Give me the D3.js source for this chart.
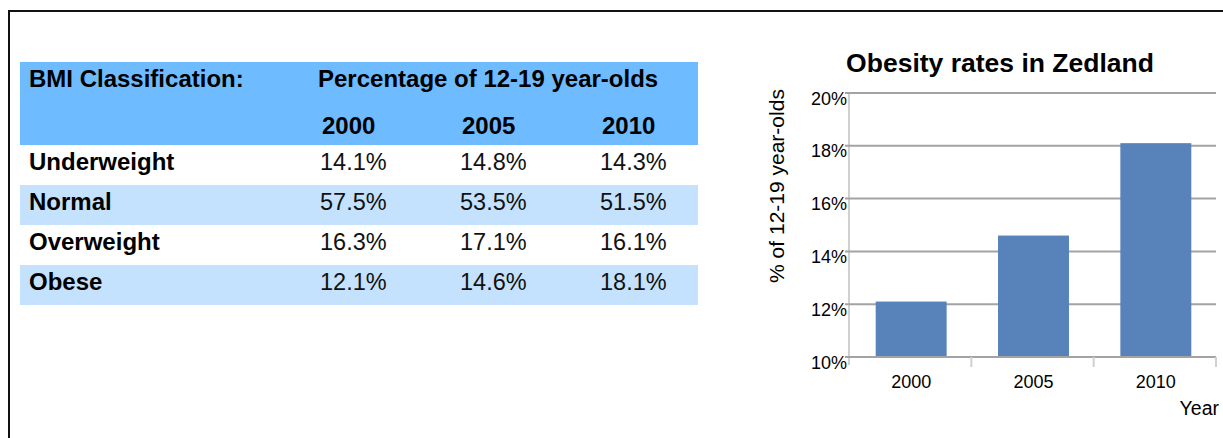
<!DOCTYPE html>
<html>
<head>
<meta charset="utf-8">
<script src="https://cdn.jsdelivr.net/npm/d3@7"></script>
<style>
  html, body { margin: 0; padding: 0; background: #fff; }
  svg { display: block; font-family: "Liberation Sans", Arial, sans-serif; }
</style>
</head>
<body>
<div id="chart_container"></div>
<script>
/// DATA
var classes = ["Underweight", "Normal", "Overweight", "Obese"];
var years = ["2000", "2005", "2010"];
var pct2000 = [14.1, 57.5, 16.3, 12.1];
var pct2005 = [14.8, 53.5, 17.1, 14.6];
var pct2010 = [14.3, 51.5, 16.1, 18.1];
var obese = [12.1, 14.6, 18.1]; // same as the "Obese" row, what the bars show
var yTicks = [10, 12, 14, 16, 18, 20];

/// SIZES
var W = 1223, H = 438;
var svg = d3.select("#chart_container").append("svg")
    .attr("width", W).attr("height", H);

// outer frame (only top + left edges are visible in the shot)
svg.append("path")
    .attr("d", "M9,438 V11 H1223")
    .attr("fill", "none").attr("stroke", "#111").attr("stroke-width", 2);

// ----------------- //
// TABLE             //
// ----------------- //
var tbl = {left: 20, right: 698, headTop: 62, headBottom: 145, rowH: 40};
var colX = d3.scalePoint().domain(years).range([320, 600]);
var rowY = d3.scaleBand().domain(classes)
    .range([tbl.headBottom, tbl.headBottom + classes.length * tbl.rowH]);
var cols = [pct2000, pct2005, pct2010];

var t = svg.append("g").attr("class", "table");

t.append("rect")
    .attr("x", tbl.left).attr("y", tbl.headTop)
    .attr("width", tbl.right - tbl.left).attr("height", tbl.headBottom - tbl.headTop)
    .attr("fill", "#6ebbff");

t.selectAll("rect.band").data(classes).enter().append("rect")
    .attr("class", "band")
    .attr("x", tbl.left).attr("y", function(d) { return rowY(d); })
    .attr("width", tbl.right - tbl.left).attr("height", rowY.bandwidth())
    .attr("fill", function(d, i) { return i % 2 ? "#c4e2fd" : "#fff"; });

var fsB = 24, fsR = 23.5;
t.append("text").attr("x", 29).attr("y", 87)
    .attr("font-size", fsB).attr("font-weight", "bold").text("BMI Classification:");
t.append("text").attr("x", 318).attr("y", 87)
    .attr("font-size", fsB).attr("font-weight", "bold").text("Percentage of 12-19 year-olds");
t.selectAll("text.yr").data(years).enter().append("text")
    .attr("class", "yr")
    .attr("x", function(d) { return colX(d) + 2; }).attr("y", 134)
    .attr("font-size", fsB).attr("font-weight", "bold")
    .text(function(d) { return d; });

t.selectAll("text.cls").data(classes).enter().append("text")
    .attr("class", "cls")
    .attr("x", 29).attr("y", function(d) { return rowY(d) + 25; })
    .attr("font-size", fsB).attr("font-weight", "bold")
    .text(function(d) { return d; });

years.forEach(function(yr, j) {
  t.selectAll("text.v" + yr).data(cols[j]).enter().append("text")
      .attr("class", "v" + yr)
      .attr("x", colX(yr)).attr("y", function(d, i) { return rowY(classes[i]) + 25; })
      .attr("font-size", fsR).attr("fill", "#111")
      .text(function(d) { return d.toFixed(1) + "%"; });
});

// ----------------- //
// BAR CHART         //
// ----------------- //
var plot = {left: 849, right: 1216, top: 93, bottom: 357};
var x = d3.scaleBand().domain(years).range([plot.left, plot.right]).padding(0);
var y = d3.scaleLinear().domain([10, 20]).range([plot.bottom, plot.top]);
var barFrac = 0.58;

var c = svg.append("g").attr("class", "chart");

c.append("text")
    .attr("x", 1000).attr("y", 72)
    .attr("text-anchor", "middle")
    .attr("font-size", 26.5).attr("font-weight", "bold")
    .text("Obesity rates in Zedland");

// y axis line
c.append("line")
    .attr("x1", plot.left).attr("x2", plot.left)
    .attr("y1", plot.top).attr("y2", plot.bottom + 8)
    .attr("stroke", "#d0d0d0").attr("stroke-width", 2);

// gridlines
c.selectAll("line.grid").data(yTicks.slice(1)).enter().append("line")
    .attr("class", "grid")
    .attr("x1", plot.left - 4).attr("x2", plot.right)
    .attr("y1", function(d) { return y(d); }).attr("y2", function(d) { return y(d); })
    .attr("stroke", "#a3a3a3").attr("stroke-width", 2);

// bars
c.selectAll("rect.bar").data(obese).enter().append("rect")
    .attr("class", "bar")
    .attr("x", function(d, i) { return x(years[i]) + x.bandwidth() * (1 - barFrac) / 2 + 1; })
    .attr("width", x.bandwidth() * barFrac)
    .attr("y", function(d) { return y(d); })
    .attr("height", function(d) { return y(10) - y(d); })
    .attr("fill", "#5782ba");

// x axis
c.append("line")
    .attr("x1", plot.left - 4).attr("x2", plot.right)
    .attr("y1", plot.bottom).attr("y2", plot.bottom)
    .attr("stroke", "#a3a3a3").attr("stroke-width", 2);
c.selectAll("line.xtick").data(years).enter().append("line")
    .attr("class", "xtick")
    .attr("x1", function(d) { return x(d) + x.bandwidth(); })
    .attr("x2", function(d) { return x(d) + x.bandwidth(); })
    .attr("y1", plot.bottom).attr("y2", plot.bottom + 10)
    .attr("stroke", "#d0d0d0").attr("stroke-width", 2);

c.selectAll("text.xl").data(years).enter().append("text")
    .attr("class", "xl")
    .attr("x", function(d) { return x(d) + x.bandwidth() / 2 + 1; })
    .attr("y", 388)
    .attr("text-anchor", "middle").attr("font-size", 18)
    .text(function(d) { return d; });

c.selectAll("text.yl").data(yTicks).enter().append("text")
    .attr("class", "yl")
    .attr("x", plot.left - 2)
    .attr("y", function(d) { return y(d) + 11.5; })
    .attr("text-anchor", "end").attr("font-size", 18)
    .text(function(d) { return d + "%"; });

c.append("text")
    .attr("x", 1219).attr("y", 415)
    .attr("text-anchor", "end").attr("font-size", 19.5)
    .text("Year");

c.append("text")
    .attr("transform", "translate(784,186)rotate(-90)")
    .attr("text-anchor", "middle").attr("font-size", 21)
    .text("% of 12-19 year-olds");
</script>
</body>
</html>
